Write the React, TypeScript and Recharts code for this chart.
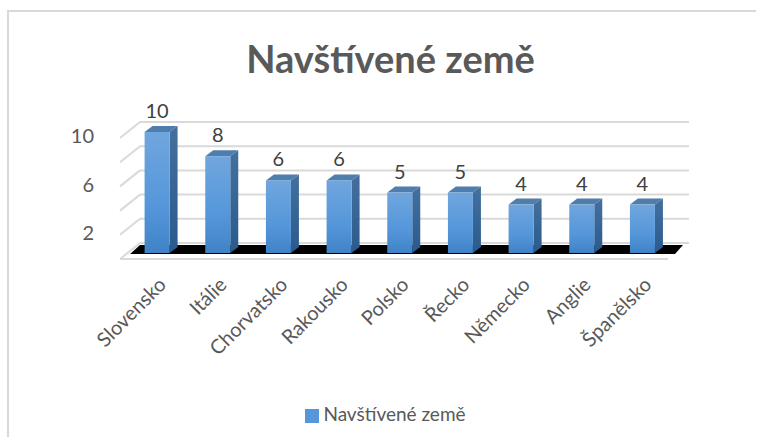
import React from 'react';
import { BarChart, Bar, XAxis, YAxis, CartesianGrid, LabelList, Legend } from 'recharts';

const categories = ['Slovensko', 'Itálie', 'Chorvatsko', 'Rakousko', 'Polsko', 'Řecko', 'Německo', 'Anglie', 'Španělsko'];
const visits = [10, 8, 6, 6, 5, 5, 4, 4, 4];
const yTicks = [0, 2, 4, 6, 8, 10];
const seriesName = 'Navštívené země';

const chartData = categories.map((name, i) => ({ name, visits: visits[i] }));

const FONT = 'Lato, "Open Sans", sans-serif';
const GRID = '#d9d9d9';
const TEXT = '#595959';

// Front face plus the top and side faces that fake the 3D look
const Bar3D = (props: any) => {
  const { x, y, width, height } = props;
  const dx = 8;
  const dy = 6;
  return (
    <g>
      <polygon points={`${x},${y} ${x + dx},${y - dy} ${x + width + dx},${y - dy} ${x + width},${y}`} fill="#4f7dac" />
      <polygon
        points={`${x + width},${y} ${x + width + dx},${y - dy} ${x + width + dx},${y + height - dy} ${x + width},${y + height}`}
        fill="url(#barSide)"
      />
      <rect x={x} y={y} width={width} height={height} fill="url(#barFront)" />
    </g>
  );
};

// Wall lines with the slanted return on the left; the baseline also gets the floor
const GridLine3D = (props: any) => {
  const { x1, x2, y1, index } = props;
  const isFloor = y1 > 240;
  const backY = y1 - 10;
  const frontY = y1 + 6;
  const backLeft = x1 + 13;
  const frontLeft = x1 - 7;
  const backRight = x2 + 16;
  return (
    <g key={index}>
      <line x1={backLeft} y1={backY} x2={backRight} y2={backY} stroke={GRID} strokeWidth={2} />
      <line x1={frontLeft} y1={frontY} x2={backLeft} y2={backY} stroke={GRID} strokeWidth={2} />
      {isFloor && (
        <>
          <line x1={frontLeft} y1={frontY} x2={x2 - 5} y2={frontY} stroke={GRID} strokeWidth={2} />
          <polygon
            points={`${x1 + 3},${y1 + 1} ${backLeft},${backY + 2} ${backRight - 6},${backY + 2} ${x2 + 2},${y1 + 1}`}
            fill="#000"
          />
        </>
      )}
    </g>
  );
};

const App = () => (
  <div style={{ position: 'absolute', left: 0, top: 0, width: 763, height: 447, background: '#fff' }}>
    <div
      style={{
        position: 'absolute',
        left: 7,
        top: 10,
        width: 749,
        height: 427,
        borderTop: '2px solid #d9d9d9',
        borderLeft: '2px solid #d9d9d9',
        boxSizing: 'border-box',
      }}
    />
    <div
      style={{
        position: 'absolute',
        left: 0,
        top: 36,
        width: 781,
        textAlign: 'center',
        fontFamily: FONT,
        fontSize: 38,
        fontWeight: 700,
        color: TEXT,
        lineHeight: '44px',
      }}
    >
      {seriesName}
    </div>
    <BarChart
      width={763}
      height={447}
      data={chartData}
      margin={{ top: 132, right: 90, bottom: 71, left: 0 }}
      barCategoryGap="29%"
      style={{ position: 'absolute', left: 0, top: 0 }}
    >
      <defs>
        <linearGradient id="barFront" x1="0" y1="0" x2="0" y2="1">
          <stop offset="0" stopColor="#70a6de" />
          <stop offset="0.6" stopColor="#5597da" />
          <stop offset="1" stopColor="#3f83c6" />
        </linearGradient>
        <linearGradient id="barSide" x1="0" y1="0" x2="0" y2="1">
          <stop offset="0" stopColor="#44709e" />
          <stop offset="1" stopColor="#2a5a8c" />
        </linearGradient>
      </defs>
      <CartesianGrid vertical={false} horizontal={(p: any) => <GridLine3D {...p} />} />
      <XAxis
        dataKey="name"
        interval={0}
        axisLine={false}
        tickLine={false}
        angle={-45}
        textAnchor="end"
        height={100}
        tickMargin={17}
        tick={{ fill: TEXT, fontSize: 20, fontFamily: FONT }}
      />
      <YAxis
        width={127}
        domain={[0, 10]}
        ticks={yTicks}
        axisLine={false}
        tickLine={false}
        tickMargin={27}
        tick={{ fill: TEXT, fontSize: 20, fontFamily: FONT, dy: 4 }}
      />
      <Bar dataKey="visits" name={seriesName} isAnimationActive={false} shape={<Bar3D />} fill="#5597da">
        <LabelList dataKey="visits" position="top" offset={14} fill="#404040" fontSize={20} fontFamily={FONT} />
      </Bar>
      <Legend
        iconType="square"
        iconSize={14}
        verticalAlign="bottom"
        wrapperStyle={{ position: 'absolute', left: 0, width: 781, top: 402, bottom: 'auto', fontFamily: FONT, fontSize: 19 }}
        formatter={(value: string) => <span style={{ color: TEXT }}>{value}</span>}
      />
    </BarChart>
  </div>
);

export default App;
